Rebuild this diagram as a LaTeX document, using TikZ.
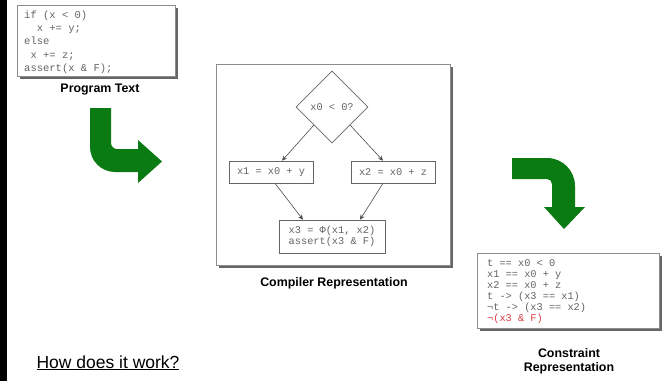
\documentclass[tikz,border=0pt]{standalone}
\usepackage{fontspec}
\setmainfont{Liberation Sans}
\newfontfamily\codefont{Liberation Mono}
\usetikzlibrary{shapes.geometric,arrows.meta,calc}
\definecolor{arrowgreen}{RGB}{10,122,18}
\definecolor{codegray}{RGB}{100,100,100}
\definecolor{redcode}{RGB}{220,60,70}
\tikzset{
  panel/.style={draw=black!45, line width=0.8pt, fill=white},
  panelshadow/.style={fill=black!60, draw=none},
  cfgbox/.style={draw=black!60, line width=0.6pt, fill=white, inner sep=0pt, font=\codefont\fontsize{10.3}{11.5}\selectfont, text=codegray},
  codetext/.style={inner sep=0pt, align=left, text=codegray},
  caption/.style={font=\bfseries\fontsize{12.4}{14}\selectfont, inner sep=0pt, align=center},
  flow/.style={draw=black!70, line width=0.6pt, -{Stealth[length=5pt,width=4.5pt]}},
  bigarrow/.style={fill=arrowgreen, draw=none}
}
\begin{document}
\begin{tikzpicture}[x=1pt,y=-1pt]
\useasboundingbox (0,0) rectangle (666,381);
% left black bar
\fill[black] (0,0) rectangle (7,381);

% Program text panel
\fill[panelshadow] (19.5,7.5) rectangle (177.5,78.5);
\draw[panel] (17,5) rectangle (175,76);
\node[codetext, anchor=north west, font=\codefont\fontsize{10.5}{13.3}\selectfont] (prog) at (24,10.5)
 {if (x < 0)\\
 \ \ x += y;\\
 else\\
 \ x += z;\\
 assert(x \& F);};
\node[caption] (progcap) at (100,90) {Program Text};

% green arrow 1
\fill[bigarrow] (90,108) -- (111,108) -- (111,143)
  .. controls (111,146.3) and (113.7,149) .. (117,149)
  -- (138,149) -- (138,140) -- (162,161.5) -- (138,183) -- (138,172) -- (115,172)
  .. controls (101.2,172) and (90,160.8) .. (90,147) -- cycle;

% Compiler panel
\fill[panelshadow] (218.5,66.5) rectangle (452.5,267.5);
\draw[panel] (216,64) rectangle (450,265);
\node[cfgbox, shape=diamond, minimum width=72pt, minimum height=72pt] (d) at (332,107) {x0 < 0?};
\node[cfgbox, minimum width=84pt, minimum height=22pt] (x1) at (271,172) {x1 = x0 + y};
\node[cfgbox, minimum width=84pt, minimum height=22pt] (x2) at (393,172) {x2 = x0 + z};
\node[cfgbox, minimum width=106pt, minimum height=33pt, align=left] (x3) at (332,236.5) {x3 = Φ(x1, x2)\\assert(x3 \& F)};
\draw[flow] (d.south west) -- ([xshift=11pt]x1.north);
\draw[flow] (d.south east) -- ([xshift=-10pt]x2.north);
\draw[flow] ([xshift=4pt]x1.south) -- ([xshift=-29pt]x3.north);
\draw[flow] ([xshift=-10pt]x2.south) -- ([xshift=28pt]x3.north);
\node[caption] (compcap) at (334,283) {Compiler Representation};

% green arrow 2
\fill[bigarrow] (512,158) -- (547,158)
  .. controls (562.5,158) and (575,170.5) .. (575,186)
  -- (575,207) -- (585,207) -- (564,229) -- (544,207) -- (552,207) -- (552,184)
  .. controls (552,181.2) and (549.8,179) .. (547,179) -- (512,179) -- cycle;

% Constraint panel
\fill[panelshadow] (479.5,255.5) rectangle (661.5,330.5);
\draw[panel] (477,253) rectangle (659,328);
\node[codetext, anchor=north west, font=\codefont\fontsize{10.3}{11}\selectfont] (cons) at (487,259)
 {t == x0 < 0\\
 x1 == x0 + y\\
 x2 == x0 + z\\
 t -> (x3 == x1)\\
 ¬t -> (x3 == x2)\\
 \textcolor{redcode}{¬(x3 \& F)}};
\node[caption] (conscap) at (569,361) {Constraint\\Representation};

% How does it work
\node[inner sep=0pt, font=\fontsize{17.5}{20}\selectfont, anchor=base] (how) at (108,368) {\underline{How does it work?}};
\end{tikzpicture}
\end{document}
